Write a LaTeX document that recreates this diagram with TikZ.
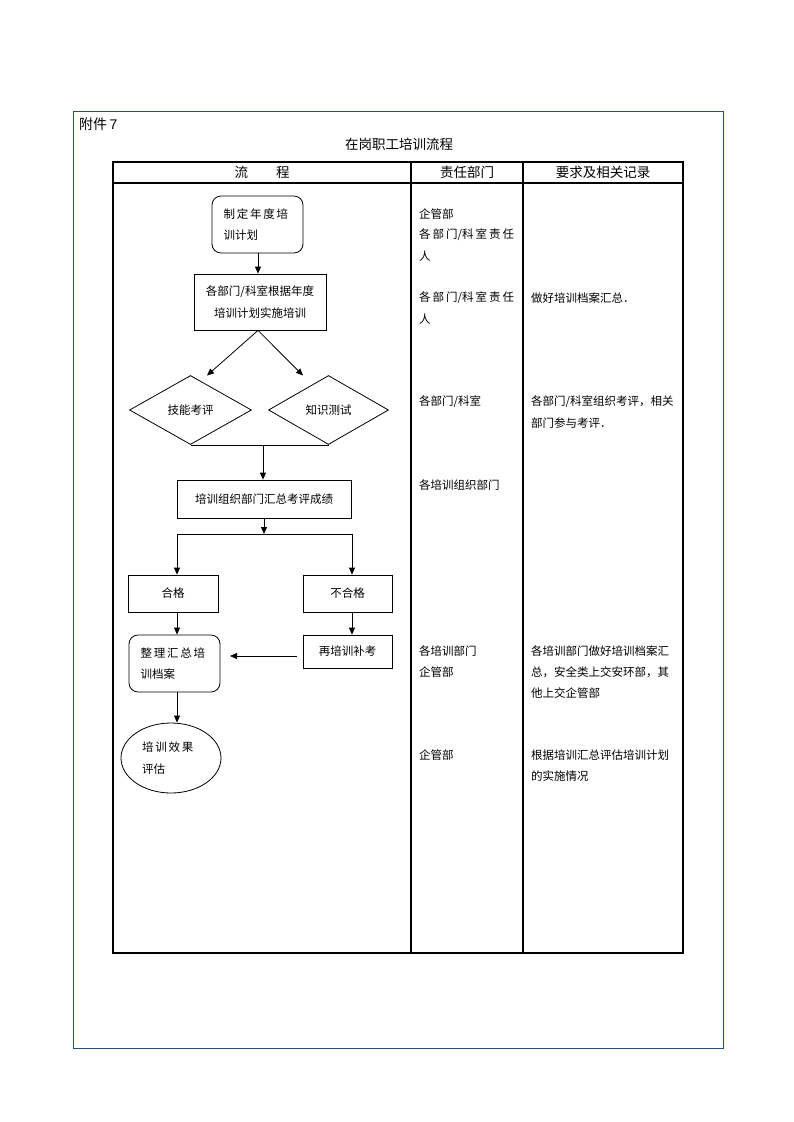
\documentclass[tikz,border=0pt]{standalone}
\usepackage{fontspec}
\setmainfont{Liberation Sans}
\newfontfamily\cjk{Noto Sans CJK SC}
\usetikzlibrary{arrows.meta,shapes.geometric}
\definecolor{frameblue}{RGB}{38,80,130}
\newcommand\myg{\hspace{1.8pt}}
\newcommand\myspread{\makebox[95pt][s]{各\hfil 部\hfil 门/科\hfil 室\hfil 责\hfil 任}}
\begin{document}
\begin{tikzpicture}[x=1pt,y=-1pt,
  every node/.style={font=\cjk\fontsize{11.5}{21.5}\selectfont},
  box/.style={draw, line width=0.8pt, inner sep=0pt, align=center},
  rbox/.style={box, rounded corners=9pt},
  dia/.style={draw, diamond, line width=0.8pt, inner sep=0pt},
  arr/.style={-{Triangle[length=7pt,width=6pt]}, line width=0.8pt},
  ln/.style={line width=0.8pt},
  tab/.style={line width=1.2pt},
  txt/.style={anchor=west, inner sep=0pt},
  hdr/.style={inner sep=0pt, font=\cjk\fontsize{13.5}{16}\selectfont}
]
\useasboundingbox (0,0) rectangle (793,1122);
% outer frame
\draw[frameblue, line width=1pt] (73,111) rectangle (723,1048);
\node[txt, font=\fontsize{14}{16}\selectfont] (att) at (79,124) {{\cjk 附件}\,7};
\node[hdr] (title) at (399,144) {在岗职工培训流程};
% table
\draw[tab] (113,162) rectangle (683,953);
\draw[tab] (113,183) -- (683,183);
\draw[tab] (411,162) -- (411,953);
\draw[tab] (523,162) -- (523,953);
\node[hdr] (h1) at (262,172.5) {流\hspace{28pt}程};
\node[hdr] (h2) at (467,172.5) {责任部门};
\node[hdr] (h3) at (603,172.5) {要求及相关记录};

% flowchart
\node[rbox, minimum width=91pt, minimum height=57pt, text width=68pt, align=left] (n1) at (257.5,224.5) {制\myg 定\myg 年\myg 度\myg 培\\训计划};
\node[box, minimum width=132pt, minimum height=56pt] (n2) at (260,302) {各部门/科室根据年度\\培训计划实施培训};
\node[dia, minimum width=122pt, minimum height=69pt] (d1) at (190.5,410) {技能考评};
\node[dia, minimum width=120pt, minimum height=69pt] (d2) at (328.5,410) {知识测试};
\node[box, minimum width=174pt, minimum height=38pt] (n3) at (264,499) {培训组织部门汇总考评成绩};
\node[box, minimum width=90pt, minimum height=37pt] (n4) at (173,593.5) {合格};
\node[box, minimum width=89pt, minimum height=37pt] (n5) at (347.5,593.5) {不合格};
\node[rbox, minimum width=91pt, minimum height=57pt, text width=68pt, align=left] (n6) at (174.5,663.5) {整\myg 理\myg 汇\myg 总\myg 培\\训档案};
\node[box, minimum width=89pt, minimum height=33pt] (n7) at (347.5,651.5) {再培训补考};
\node[draw, ellipse, line width=0.8pt, inner sep=0pt, minimum width=100pt, minimum height=70pt, text width=58pt, align=left] (n8) at (171,758) {培\myg 训\myg 效\myg 果\\评估};

\coordinate (a1) at (207,375.5);
\coordinate (a2) at (303,375.5);
\coordinate (j1) at (263,445);
\coordinate (j2) at (264,534);
\coordinate (jl) at (177,534);
\coordinate (jr) at (352,534);
\coordinate (b1) at (297,656);
\coordinate (b2) at (230,656);
\coordinate (t1) at (258,253);

\draw[arr] (t1) -- (t1 |- n2.north);
\draw[arr] (n2.south -| t1) -- (a1);
\draw[arr] (n2.south -| t1) -- (a2);
\draw[ln] (d1.south) -- (d2.south);
\draw[arr] (j1) -- (j1 |- n3.north);
\draw[arr] (n3.south -| j2) -- (j2);
\draw[ln] (jl) -- (jr);
\draw[arr] (jl) -- (jl |- n4.north);
\draw[arr] (jr) -- (jr |- n5.north);
\draw[arr] (jl |- n4.south) -- (jl |- n6.north);
\draw[arr] (jr |- n5.south) -- (jr |- n7.north);
\draw[arr] (b1) -- (b2);
\draw[arr] (jl |- n6.south) -- (jl |- n8.north);

% column 2
\node[txt] (r1) at (419,214) {企管部};
\node[txt] (r2) at (419,235) {\myspread};
\node[txt] (r3) at (419,256) {人};
\node[txt] (r4) at (419,298) {\myspread};
\node[txt] (r5) at (419,319) {人};
\node[txt] (r6) at (419,402) {各部门/科室};
\node[txt] (r7) at (419,485) {各培训组织部门};
\node[txt] (r8) at (419,651) {各培训部门};
\node[txt] (r9) at (419,672) {企管部};
\node[txt] (r10) at (419,755) {企管部};
% column 3
\node[txt] (s1) at (531,298) {做好培训档案汇总．};
\node[txt] (s2) at (531,402) {各部门/科室组织考评，相关};
\node[txt] (s3) at (531,423) {部门参与考评．};
\node[txt] (s4) at (531,651) {各培训部门做好培训档案汇};
\node[txt] (s5) at (531,672) {总，安全类上交安环部，其};
\node[txt] (s6) at (531,693) {他上交企管部};
\node[txt] (s7) at (531,755) {根据培训汇总评估培训计划};
\node[txt] (s8) at (531,776) {的实施情况};
\end{tikzpicture}
\end{document}
